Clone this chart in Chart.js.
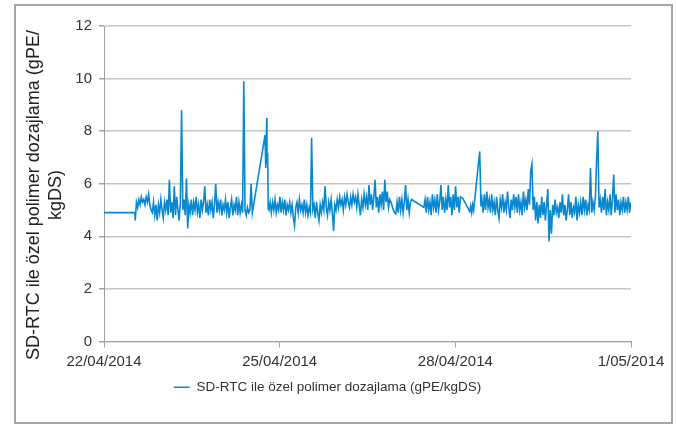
<!DOCTYPE html>
<html>
<head>
<meta charset="utf-8">
<script src="https://cdn.jsdelivr.net/npm/chart.js@4.4.1/dist/chart.umd.min.js"></script>
<style>
  html, body { margin: 0; padding: 0; background: #fff; }
  #wrap { position: relative; width: 677px; height: 426px; }
  #frame {
    position: absolute; left: 14px; top: 4px; width: 659px; height: 420px;
    border: 2px solid #a5a5a5; box-sizing: border-box; pointer-events: none;
  }
  canvas { position: absolute; left: 0; top: 0; }
</style>
</head>
<body>
<div id="wrap">
  <canvas id="chart" width="677" height="426"></canvas>
  <div id="frame"></div>
</div>
<script>
// --- DATA (hours since 22/04/2014 00:00, dosing in gPE/kgDS) ---
const seriesLabel = 'SD-RTC ile özel polimer dozajlama (gPE/kgDS)';
const yTitle = ['SD-RTC ile özel polimer dozajlama (gPE/', 'kgDS)'];
const dateLabels = ['22/04/2014', '25/04/2014', '28/04/2014', '1/05/2014'];
const yTicks = [0, 2, 4, 6, 8, 10, 12];
const SAMPLE_STEP = 0.5; // logger interval, hours

// constant start before the controller was switched on
const flatHours = [0, 12.6];
const flatValues = [4.9, 4.9];

// 22/04 12:48 -> 24/04 12:48
const segBStart = 12.8;
const segBValues = [
  4.6, 5.3, 5.1, 5.4, 5.2, 5.5, 5.3, 5.4, 5.2, 5.5,
  5.3, 5.6, 5.2, 5.0, 4.9, 5.3, 4.8, 5.2, 4.6, 5.2,
  4.9, 5.4, 5.0, 4.7, 5.3, 5.0, 5.4, 4.8, 6.15, 4.9,
  5.3, 4.7, 5.9, 4.8, 5.5, 5.0, 4.6, 5.3, 8.8, 5.0,
  5.4, 4.8, 6.2, 4.3, 5.2, 4.9, 5.4, 4.8, 5.3, 5.0,
  5.5, 4.9, 5.2, 4.7, 5.4, 5.0, 5.3, 5.9, 4.9, 5.2,
  4.8, 5.4, 5.0, 5.3, 4.7, 5.2, 6.0, 4.9, 5.3, 5.0,
  5.4, 4.8, 5.2, 5.0, 5.4, 4.9, 5.3, 4.7, 5.1, 5.4,
  4.8, 5.2, 5.0, 5.5, 4.8, 5.3, 4.9, 5.2, 4.9, 9.9,
  5.0, 4.8, 5.1, 4.9, 5.0, 6.0, 4.9
];

// sparse logging, ramp to ~7.9 on 24/04 evening
const rampAHours = [61.0, 66.0, 66.3, 66.7, 66.8, 67.1, 67.3];
const rampAValues = [4.9, 7.85, 6.6, 8.5, 6.9, 7.0, 5.05];

// 24/04 19:36 -> 27/04 06:06
const segCStart = 67.6;
const segCValues = [
  5.0, 5.3, 4.9, 5.3, 5.0, 5.4, 4.9, 5.2, 5.0, 5.5,
  4.9, 5.3, 5.0, 5.4, 4.8, 5.2, 5.0, 5.3, 4.9, 5.2,
  4.7, 4.4, 5.1, 5.3, 4.9, 5.4, 5.0, 5.2, 4.9, 5.4,
  4.9, 5.2, 4.8, 5.1, 4.9, 7.75, 5.0, 5.2, 4.7, 5.3,
  4.9, 4.6, 5.2, 4.9, 5.3, 5.0, 5.9, 5.1, 4.8, 5.3,
  5.0, 5.4, 4.9, 4.2, 5.2, 5.0, 5.4, 5.1, 5.5, 5.2,
  5.4, 5.0, 5.5, 5.2, 5.6, 5.3, 5.1, 5.5, 5.2, 5.6,
  5.3, 5.5, 5.1, 5.6, 5.2, 4.8, 5.4, 5.1, 5.6, 5.2,
  5.5, 5.0, 5.95, 5.2, 5.6, 5.0, 5.5, 6.15, 5.1, 5.5,
  4.9, 5.6, 5.2, 5.7, 5.0, 6.15, 5.3, 5.7, 5.1, 5.4,
  5.3, 5.15, 5.0, 4.9, 4.85, 5.3, 4.9, 5.5, 5.0, 5.4,
  4.9, 5.3, 5.95, 5.0, 5.4, 4.9, 5.3, 5.4
];

// 27/04 11:06 -> 28/04 02:06
const segDStart = 131.1;
const segDValues = [
  5.1, 5.4, 4.9, 5.5, 5.0, 5.3, 4.8, 5.6, 5.1, 5.4,
  4.9, 5.6, 5.0, 5.3, 5.95, 5.0, 5.5, 4.9, 5.4, 5.0,
  5.95, 5.1, 5.5, 4.8, 5.6, 5.0, 5.9, 5.1, 5.5, 4.9,
  5.5
];

// dip and ramp to ~7.2 on 28/04
const rampBHours = [147.0, 148.5, 149.9, 150.3, 150.7, 151.1, 151.5, 154.0, 154.5];
const rampBValues = [5.45, 5.2, 4.95, 5.15, 4.9, 5.2, 5.0, 7.23, 5.14];

// 28/04 10:54 -> 30/04 23:54
const segEStart = 154.9;
const segEValues = [
  5.4, 4.9, 5.6, 5.0, 5.7, 5.1, 5.4, 4.9, 5.6, 5.0,
  5.3, 4.8, 5.5, 5.0, 4.7, 5.4, 5.1, 5.6, 4.9, 5.3,
  5.0, 5.7, 5.1, 4.7, 5.4, 5.0, 5.6, 5.1, 5.5, 4.9,
  5.6, 5.0, 5.3, 4.8, 5.7, 5.1, 5.4, 5.0, 5.8, 5.2,
  6.5, 6.75, 5.0, 5.5, 4.6, 5.3, 4.5, 5.2, 4.7, 5.5,
  4.8, 5.3, 4.6, 5.2, 5.8, 3.8, 5.0, 4.1, 5.2, 4.8,
  5.4, 4.9, 5.1, 4.7, 5.3, 4.9, 5.6, 4.8, 5.2, 4.6,
  5.0, 5.6, 4.8, 5.3, 4.7, 5.1, 4.9, 5.5, 4.6, 5.2,
  4.9, 5.3, 4.8, 5.5, 5.0, 5.4, 4.8, 5.2, 5.0, 6.6,
  4.9, 5.3, 5.0, 5.5, 6.9, 8.0, 5.1, 5.4, 4.9, 5.5,
  5.0, 5.8, 4.8, 5.3, 5.0, 5.6, 4.8, 5.4, 6.35, 4.9,
  5.6, 5.0, 5.4, 4.8, 5.3, 5.0, 5.5, 4.9, 5.3, 5.0,
  5.5, 4.9, 5.3
];

// --- BUILD POINTS ---
const points = [];
const addPairs = (hours, values) => hours.forEach((h, i) => points.push({ x: h, y: values[i] }));
const addLogged = (start, values) => values.forEach((v, i) => points.push({ x: start + i * SAMPLE_STEP, y: v }));

addPairs(flatHours, flatValues);
addLogged(segBStart, segBValues);
addPairs(rampAHours, rampAValues);
addLogged(segCStart, segCValues);
addLogged(segDStart, segDValues);
addPairs(rampBHours, rampBValues);
addLogged(segEStart, segEValues);

const lineColor = '#0788d0';
const font = "'Liberation Sans', Arial, Helvetica, sans-serif";

// Excel centres the axis title a bit lower than the plot, so draw it ourselves
const yTitlePlugin = {
  id: 'yTitle',
  afterDraw(chart) {
    const ctx = chart.ctx;
    ctx.save();
    ctx.translate(34, 195);
    ctx.rotate(-Math.PI / 2);
    ctx.fillStyle = '#222';
    ctx.font = `18px ${font}`;
    ctx.textAlign = 'center';
    ctx.textBaseline = 'middle';
    yTitle.forEach((line, i) => ctx.fillText(line, 0, i * 22));
    ctx.restore();
  }
};

new Chart(document.getElementById('chart'), {
  type: 'line',
  data: {
    datasets: [{
      label: seriesLabel,
      data: points,
      borderColor: lineColor,
      backgroundColor: lineColor,
      borderWidth: 1.6,
      pointRadius: 0,
      tension: 0
    }]
  },
  plugins: [yTitlePlugin],
  options: {
    responsive: false,
    animation: false,
    layout: { padding: { left: 24, right: 46, top: 26, bottom: 22 } },
    plugins: {
      tooltip: { enabled: false },
      legend: {
        position: 'bottom',
        labels: {
          usePointStyle: true,
          pointStyle: 'line',
          pointStyleWidth: 16,
          padding: 9,
          color: '#333',
          font: { family: font, size: 13.5 }
        }
      }
    },
    scales: {
      x: {
        type: 'linear',
        min: 0,
        max: 216,
        afterFit: (s) => { s.height = 30; },
        afterBuildTicks: (s) => { s.ticks = dateLabels.map((_, i) => ({ value: i * 72 })); },
        ticks: {
          autoSkip: false,
          maxRotation: 0,
          padding: 5,
          color: '#333',
          font: { family: font, size: 15 },
          callback: (v) => dateLabels[Math.round(v / 72)]
        },
        grid: { drawOnChartArea: false, drawTicks: true, tickLength: 6, color: '#a0a0a0' },
        border: { color: '#a0a0a0' }
      },
      y: {
        min: 0,
        max: 12,
        afterFit: (s) => { s.width = 80; },
        afterBuildTicks: (s) => { s.ticks = yTicks.map(v => ({ value: v })); },
        ticks: {
          padding: 7,
          color: '#333',
          font: { family: font, size: 15 }
        },
        grid: { color: '#c6c6c6', lineWidth: 1.5, tickLength: 5, tickColor: '#a0a0a0' },
        border: { color: '#a0a0a0', width: 1 }
      }
    }
  }
});
</script>
</body>
</html>
